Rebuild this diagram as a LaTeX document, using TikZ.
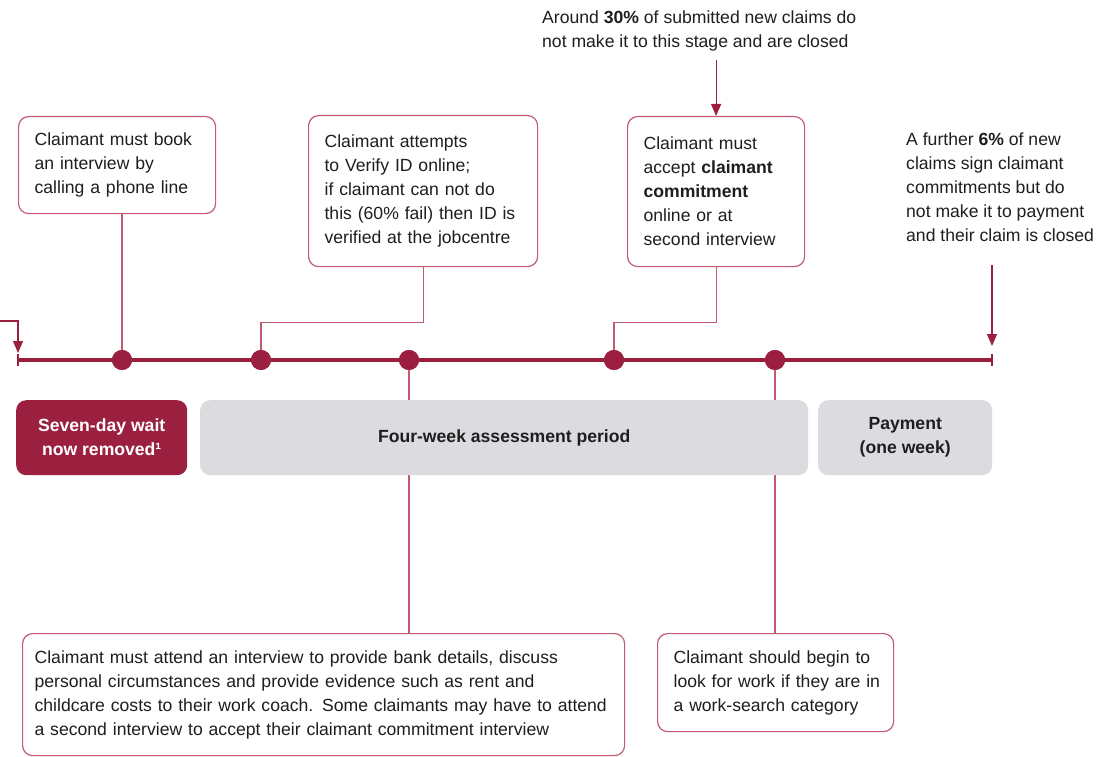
\documentclass[tikz,border=0pt]{standalone}
\usepackage{fontspec}
\setmainfont{Liberation Sans}
\usetikzlibrary{arrows.meta}
\definecolor{dred}{HTML}{9B2040}
\definecolor{bred}{HTML}{C25A72}
\definecolor{lgray}{HTML}{DCDBE0}
\definecolor{txt}{HTML}{1E1E1E}
\begin{document}
\begin{tikzpicture}[x=1pt,y=-1pt,
  every node/.style={font=\fontsize{17.6}{24}\selectfont, text=txt},
  infobox/.style={draw=bred, line width=1.2pt, rounded corners=10pt, fill=white,
    align=left, inner xsep=16pt, inner ysep=0pt, anchor=north west},
  phase/.style={rounded corners=10pt, align=center, anchor=north west, inner sep=0pt,
    font=\fontsize{17.6}{24}\selectfont\bfseries},
  conn/.style={draw=bred, line width=1.1pt},
  tline/.style={draw=dred, line width=3.2pt},
  dot/.style={circle, fill=dred, minimum size=20pt, inner sep=0pt},
  arr/.style={draw=dred, line width=1.2pt, -{Triangle[width=10pt,length=12pt]}},
  note/.style={align=left, anchor=north west, inner sep=0pt}]
\useasboundingbox (0,0) rectangle (1109,757);

% top boxes
\node[infobox, minimum width=197pt, minimum height=97pt, text width=165pt] (b1) at (18,116)
  {Claimant must book\\an interview by\\calling a phone line};
\node[infobox, minimum width=229pt, minimum height=151pt, text width=197pt] (b2) at (308,115)
  {Claimant attempts\\to Verify ID online;\\if claimant can not do\\this (60\% fail) then ID is\\verified at the jobcentre};
\node[infobox, minimum width=177pt, minimum height=150pt, text width=145pt] (b3) at (627,116)
  {Claimant must\\accept \textbf{claimant}\\\textbf{commitment}\\online or at\\second interview};

% notes
\node[note] (n30) at (542,11) {Around \textbf{30\%} of submitted new claims do\\not make it to this stage and are closed};
\node[note] (n6) at (906,133) {A further \textbf{6\%} of new\\claims sign claimant\\commitments but do\\not make it to payment\\and their claim is closed};

% timeline
\coordinate (tl0) at (18,360);
\coordinate (tl1) at (992,360);
\node[dot] (d1) at (122,360) {};
\node[dot] (d2) at (261,360) {};
\node[dot] (d3) at (409,360) {};
\node[dot] (d4) at (614,360) {};
\node[dot] (d5) at (775,360) {};

% bottom boxes
\node[infobox, inner xsep=12pt, minimum width=602pt, minimum height=122pt, text width=578pt] (bb1) at (22,633)
  {Claimant must attend an interview to provide bank details, discuss\\personal circumstances and provide evidence such as rent and\\childcare costs to their work coach. Some claimants may have to attend\\a second interview to accept their claimant commitment interview};
\node[infobox, minimum width=236pt, minimum height=98pt, text width=204pt] (bb2) at (657,633)
  {\mbox{Claimant should begin to}\\\mbox{look for work if they are in}\\\mbox{a work-search category}};

% connectors below timeline (behind phases)
\draw[conn] (d3) -- (d3 |- bb1.north);
\draw[conn] (d5) -- (d5 |- bb2.north);

% phases
\node[phase, fill=dred, text=white, minimum width=171pt, minimum height=75pt] (ph1) at (16,400)
  {Seven-day wait\\now removed¹};
\node[phase, fill=lgray, minimum width=608pt, minimum height=75pt] (ph2) at (200,400)
  {Four-week assessment period};
\node[phase, fill=lgray, minimum width=174pt, minimum height=75pt] (ph3) at (818,400)
  {Payment\\(one week)};

% connectors above timeline
\draw[conn] (d1 |- b1.south) -- (d1);
\draw[conn] (b2.south) -- ++(0,55) -| (d2);
\draw[conn] (b3.south) -- ++(0,55) -| (d4);

% timeline line and ticks
\draw[tline] (tl0) -- (tl1);
\draw[draw=dred, line width=1.8pt] ([yshift=-6]tl0) -- ([yshift=6]tl0);
\draw[draw=dred, line width=1.8pt] ([yshift=-6]tl1) -- ([yshift=6]tl1);
\foreach \d in {d1,d2,d3,d4,d5} \node[dot] at (\d) {};

% arrows
\coordinate (inL) at (0,321);
\draw[arr] (inL) -| ([yshift=7]tl0);
\coordinate (a30) at (b3.north |- 0,60);
\draw[arr] (a30) -- (b3.north);
\coordinate (a6) at (992,265);
\draw[arr] (a6) -- ([yshift=14]tl1);
\end{tikzpicture}
\end{document}
